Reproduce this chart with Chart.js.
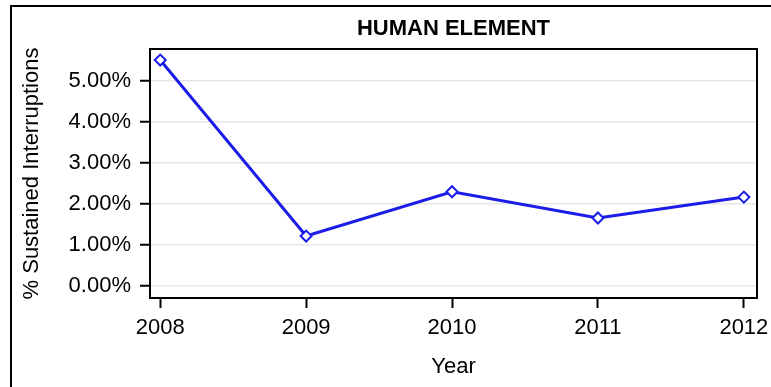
<!DOCTYPE html>
<html>
<head>
<meta charset="utf-8">
<script src="https://cdn.jsdelivr.net/npm/chart.js@4.4.1/dist/chart.umd.min.js"></script>
<style>
  html, body { margin: 0; padding: 0; background: #fff; }
  #wrap { position: relative; width: 771px; height: 387px; }
  #moldura {
    position: absolute; left: 10px; top: 5px; right: 0; bottom: 0;
    border-left: 2px solid #000; border-top: 2px solid #000;
    pointer-events: none;
  }
</style>
</head>
<body>
<div id="wrap">
  <canvas id="grafico" width="771" height="387"></canvas>
  <div id="moldura"></div>
</div>
<script>
// Dados do gráfico
const anos = [2008, 2009, 2010, 2011, 2012];
const percentuais = [5.51, 1.22, 2.30, 1.66, 2.17];
const ticksY = [0, 1, 2, 3, 4, 5];

const FONTE = "'Liberation Sans', Arial, sans-serif";
const AZUL = "#1c1ce8";

// Moldura da área do gráfico (topo e direita)
const molduraArea = {
  id: "molduraArea",
  afterDatasetsDraw(chart) {
    const { ctx, chartArea } = chart;
    ctx.save();
    ctx.strokeStyle = "#000";
    ctx.lineWidth = 2;
    ctx.strokeRect(chartArea.left, chartArea.top, chartArea.right - chartArea.left, chartArea.bottom - chartArea.top);
    ctx.restore();
  },
};

new Chart(document.getElementById("grafico"), {
  type: "line",
  data: {
    datasets: [
      {
        label: "Human Element",
        data: anos.map((ano, i) => ({ x: ano, y: percentuais[i] })),
        borderColor: AZUL,
        borderWidth: 3,
        pointStyle: "rectRot",
        pointRadius: 5.5,
        pointBorderWidth: 2,
        pointBorderColor: AZUL,
        pointBackgroundColor: "#fff",
        tension: 0,
      },
    ],
  },
  options: {
    responsive: false,
    animation: false,
    layout: { padding: { left: 0, right: 14, top: 0, bottom: 0 } },
    plugins: {
      legend: { display: false },
      tooltip: { enabled: false },
      title: {
        display: true,
        text: "HUMAN ELEMENT",
        fullSize: false,
        color: "#000",
        font: { family: FONTE, size: 22, weight: "bold" },
        padding: { top: 16, bottom: 6.6 },
      },
    },
    scales: {
      x: {
        type: "linear",
        min: 2007.93,
        max: 2012.09,
        afterBuildTicks: (scale) => {
          scale.ticks = anos.map((a) => ({ value: a }));
        },
        afterFit: (scale) => {
          scale.height = 89;
          // o rótulo 2012 pode ultrapassar a área, sem empurrar o gráfico
          scale.paddingLeft = 0;
          scale.paddingRight = 0;
        },
        ticks: {
          color: "#000",
          font: { family: FONTE, size: 22 },
          padding: 7,
          callback: (v) => String(v),
        },
        grid: {
          drawOnChartArea: false,
          tickLength: 10,
          tickColor: "#000",
          tickWidth: 2,
        },
        border: { color: "#000", width: 2 },
        title: {
          display: true,
          text: "Year",
          color: "#000",
          font: { family: FONTE, size: 22 },
          padding: { top: 0, bottom: 7 },
        },
      },
      y: {
        min: -0.29,
        max: 5.78,
        afterBuildTicks: (scale) => {
          scale.ticks = ticksY.map((t) => ({ value: t }));
        },
        afterFit: (scale) => {
          scale.width = 150;
        },
        ticks: {
          color: "#000",
          font: { family: FONTE, size: 22 },
          padding: 9,
          callback: (v) => v.toFixed(2) + "%",
        },
        grid: {
          color: "#e6e6e6",
          lineWidth: 1.5,
          tickLength: 10,
          tickColor: "#000",
          tickWidth: 2,
        },
        border: { color: "#000", width: 2 },
        title: {
          display: true,
          text: "% Sustained Interruptions",
          color: "#000",
          font: { family: FONTE, size: 22 },
          padding: { top: 19, bottom: 0 },
        },
      },
    },
  },
  plugins: [molduraArea],
});
</script>
</body>
</html>
